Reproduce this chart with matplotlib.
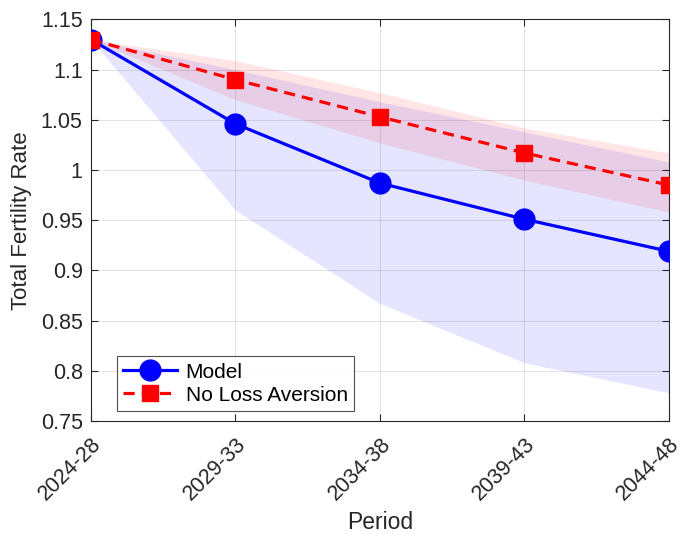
import matplotlib
matplotlib.use("Agg")
import matplotlib.pyplot as plt
import numpy as np

plt.rcParams['font.family'] = ['Liberation Sans', 'DejaVu Sans']

periods = ["2024-28", "2029-33", "2034-38", "2039-43", "2044-48"]

model = [1.130, 1.046, 0.987, 0.951, 0.919]
model_low = [1.130, 0.960, 0.867, 0.808, 0.778]
model_high = [1.130, 1.100, 1.068, 1.038, 1.008]

no_la = [1.130, 1.090, 1.053, 1.017, 0.985]
no_la_low = [1.130, 1.070, 1.027, 0.990, 0.958]
no_la_high = [1.130, 1.109, 1.077, 1.042, 1.017]

ink = (0.15, 0.15, 0.15)

fig = plt.figure(figsize=(6.83, 5.35), dpi=100)
ax = fig.add_axes([0.1332, 0.2131, 0.8463, 0.7505])

x = np.arange(1, len(periods) + 1)

ax.fill_between(x, model_low, model_high, color=(0, 0, 1), alpha=0.1, linewidth=0)
ax.fill_between(x, no_la_low, no_la_high, color=(1, 0, 0), alpha=0.1, linewidth=0)

ax.plot(x, model, color=(0, 0, 1), linewidth=2.3, marker='o', markersize=15,
        label='Model', zorder=3)
ax.plot(x, no_la, color=(1, 0, 0), linewidth=2.3, linestyle=(0, (3.5, 2.2)),
        marker='s', markersize=11.5, label='No Loss Aversion', zorder=4)

ax.set_xlim(1, 5)
ax.set_ylim(0.75, 1.15)
ax.set_xticks(x)
ax.set_xticklabels(periods, rotation=45, ha='right', va='top',
                   rotation_mode='anchor')
ax.set_yticks(np.arange(0.75, 1.151, 0.05))
ax.set_yticklabels(['0.75', '0.8', '0.85', '0.9', '0.95', '1', '1.05', '1.1', '1.15'])

ax.tick_params(axis='both', direction='in', length=5, width=0.8, colors=ink,
               labelsize=15.5, top=True, right=True)
ax.tick_params(axis='x', pad=9)
ax.tick_params(axis='y', pad=6)
for lbl in ax.get_xticklabels() + ax.get_yticklabels():
    lbl.set_color(ink)
for s in ax.spines.values():
    s.set_color(ink)
    s.set_linewidth(0.8)

ax.grid(True, color=ink, alpha=0.15, linewidth=0.6)
ax.set_axisbelow(True)

ax.set_xlabel('Period', fontsize=16.5, color=ink, labelpad=5)
ax.set_ylabel('Total Fertility Rate', fontsize=16, color=ink, labelpad=6)

leg = ax.legend(loc='lower left', bbox_to_anchor=(0.045, 0.025), fontsize=15,
                frameon=True, fancybox=False, handlelength=2.6,
                handletextpad=0.4, borderpad=0.3, labelspacing=0.2,
                borderaxespad=0)
leg.get_frame().set_edgecolor(ink)
leg.get_frame().set_linewidth(0.8)
for t in leg.get_texts():
    t.set_color('black')

fig.savefig('out.png', dpi=100)
